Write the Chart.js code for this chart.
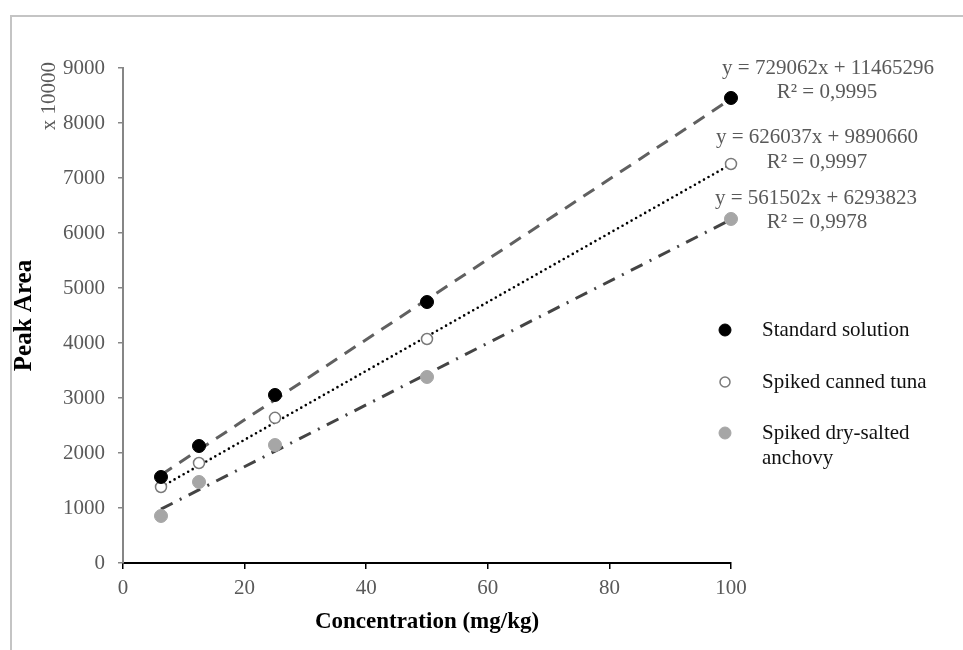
<!DOCTYPE html>
<html>
<head>
<meta charset="utf-8">
<script src="https://cdn.jsdelivr.net/npm/chart.js@4.4.1/dist/chart.umd.min.js"></script>
<style>
  html, body { margin: 0; padding: 0; background: #fff; overflow: hidden; }
  #wrap { position: relative; width: 963px; height: 650px; }
  #frame { position: absolute; left: 10px; top: 15px; width: 980px; height: 660px; border: 2px solid #c4c4c4; }
  #chart { position: absolute; left: 0; top: 0; }
</style>
</head>
<body>
<div id="wrap">
  <div id="frame"></div>
  <canvas id="chart" width="963" height="650"></canvas>
</div>
<script>
// measured points (peak area x 10000)
const concentrations = [6.25, 12.5, 25, 50, 100];
const standardSolution = [1564, 2127, 3055, 4745, 8455];
const spikedTuna = [1382, 1818, 2640, 4073, 7255];
const spikedAnchovy = [855, 1473, 2145, 3382, 6255];

// trendline end points
const trendX = [6.25, 100];
const standardTrend = [1602, 8437];
const tunaTrend = [1380, 7249];
const anchovyTrend = [980, 6244];

const seriesNames = ["Standard solution", "Spiked canned tuna", "Spiked dry-salted anchovy"];
const equations = ["y = 729062x + 11465296", "y = 626037x + 9890660", "y = 561502x + 6293823"];
const rSquared = ["R² = 0,9995", "R² = 0,9997", "R² = 0,9978"];

const xTicks = [0, 20, 40, 60, 80, 100];
const yTicks = [0, 1000, 2000, 3000, 4000, 5000, 6000, 7000, 8000, 9000];

const serif = '"Liberation Serif", "Times New Roman", serif';

function toPoints(xs, ys) {
  return xs.map((x, i) => ({ x: x, y: ys[i] }));
}

function wrapText(ctx, text, maxWidth) {
  const words = text.split(" ");
  const lines = [];
  let line = "";
  words.forEach((w) => {
    const test = line ? line + " " + w : w;
    if (ctx.measureText(test).width > maxWidth && line) {
      lines.push(line);
      line = w;
    } else {
      line = test;
    }
  });
  if (line) lines.push(line);
  return lines;
}

const annotations = {
  id: "annotations",
  afterDraw(chart) {
    const ctx = chart.ctx;
    ctx.save();

    // multiplier label next to the y axis
    ctx.font = `21px ${serif}`;
    ctx.fillStyle = "#595959";
    ctx.textAlign = "center";
    ctx.textBaseline = "middle";
    ctx.save();
    ctx.translate(49, 96);
    ctx.rotate(-Math.PI / 2);
    ctx.fillText("x 10000", 0, 0);
    ctx.restore();

    // regression equations
    const eqPos = [
      [828, 68, 827, 92],
      [817, 137, 817, 162],
      [816, 198, 817, 222],
    ];
    equations.forEach((eq, i) => {
      const p = eqPos[i];
      ctx.fillText(eq, p[0], p[1]);
      ctx.fillText(rSquared[i], p[2], p[3]);
    });

    // legend
    const legendY = [330, 382, 433];
    ctx.textAlign = "left";
    ctx.fillStyle = "#111";
    seriesNames.forEach((name, i) => {
      const ds = chart.data.datasets[i];
      ctx.beginPath();
      ctx.arc(725, legendY[i], ds.pointRadius - 0.5, 0, Math.PI * 2);
      ctx.fillStyle = ds.pointBackgroundColor;
      ctx.fill();
      ctx.lineWidth = ds.pointBorderWidth;
      ctx.strokeStyle = ds.pointBorderColor;
      ctx.stroke();
      ctx.fillStyle = "#111";
      const lines = wrapText(ctx, name, 195);
      lines.forEach((ln, j) => {
        ctx.fillText(ln, 762, legendY[i] + j * 25);
      });
    });

    ctx.restore();
  },
};

const chart = new Chart(document.getElementById("chart"), {
  type: "scatter",
  data: {
    datasets: [
      {
        label: seriesNames[0],
        data: toPoints(concentrations, standardSolution),
        pointRadius: 6.5,
        pointBackgroundColor: "#000000",
        pointBorderColor: "#000000",
        pointBorderWidth: 1,
        showLine: false,
        clip: false,
      },
      {
        label: seriesNames[1],
        data: toPoints(concentrations, spikedTuna),
        pointRadius: 5.5,
        pointBackgroundColor: "#ffffff",
        pointBorderColor: "#7a7a7a",
        pointBorderWidth: 1.5,
        showLine: false,
        clip: false,
      },
      {
        label: seriesNames[2],
        data: toPoints(concentrations, spikedAnchovy),
        pointRadius: 6.5,
        pointBackgroundColor: "#a6a6a6",
        pointBorderColor: "#a6a6a6",
        pointBorderWidth: 1,
        showLine: false,
        clip: false,
      },
      {
        label: "Standard trend",
        data: toPoints(trendX, standardTrend),
        showLine: true,
        pointRadius: 0,
        borderColor: "#606060",
        borderWidth: 3,
        borderDash: [13, 9],
        clip: false,
      },
      {
        label: "Tuna trend",
        data: toPoints(trendX, tunaTrend),
        showLine: true,
        pointRadius: 0,
        borderColor: "#000000",
        borderWidth: 2.6,
        borderDash: [0, 5.2],
        borderCapStyle: "round",
        clip: false,
      },
      {
        label: "Anchovy trend",
        data: toPoints(trendX, anchovyTrend),
        showLine: true,
        pointRadius: 0,
        borderColor: "#444444",
        borderWidth: 3,
        borderDash: [13, 8, 2, 8],
        clip: false,
      },
    ],
  },
  options: {
    responsive: false,
    animation: false,
    layout: { padding: { left: 0, right: 232, top: 68, bottom: 0 } },
    plugins: {
      legend: { display: false },
      tooltip: { enabled: false },
    },
    scales: {
      x: {
        type: "linear",
        min: 0,
        max: 100,
        afterBuildTicks: (s) => { s.ticks = xTicks.map((v) => ({ value: v })); },
        afterFit: (s) => { s.height = 87; },
        ticks: {
          color: "#595959",
          font: { family: serif, size: 21 },
          padding: 7,
          maxRotation: 0,
          callback: (v) => String(v),
        },
        grid: { drawOnChartArea: false, tickLength: 6, color: "#000000", lineWidth: 1.5 },
        border: { color: "#000000", width: 2 },
        title: {
          display: true,
          text: "Concentration (mg/kg)",
          color: "#000000",
          font: { family: serif, size: 23, weight: "bold" },
          padding: { top: 0, bottom: 14 },
        },
      },
      y: {
        type: "linear",
        min: 0,
        max: 9000,
        afterBuildTicks: (s) => { s.ticks = yTicks.map((v) => ({ value: v })); },
        afterFit: (s) => { s.width = 123; },
        ticks: {
          color: "#595959",
          font: { family: serif, size: 21 },
          padding: 13,
          callback: (v) => String(v),
        },
        grid: { drawOnChartArea: false, tickLength: 5, color: "#868686", lineWidth: 1.5 },
        border: { color: "#868686", width: 2 },
        title: {
          display: true,
          text: "Peak Area",
          color: "#000000",
          font: { family: serif, size: 25, weight: "bold" },
          padding: { top: 10, bottom: 0 },
        },
      },
    },
  },
  plugins: [annotations],
});
</script>
</body>
</html>
